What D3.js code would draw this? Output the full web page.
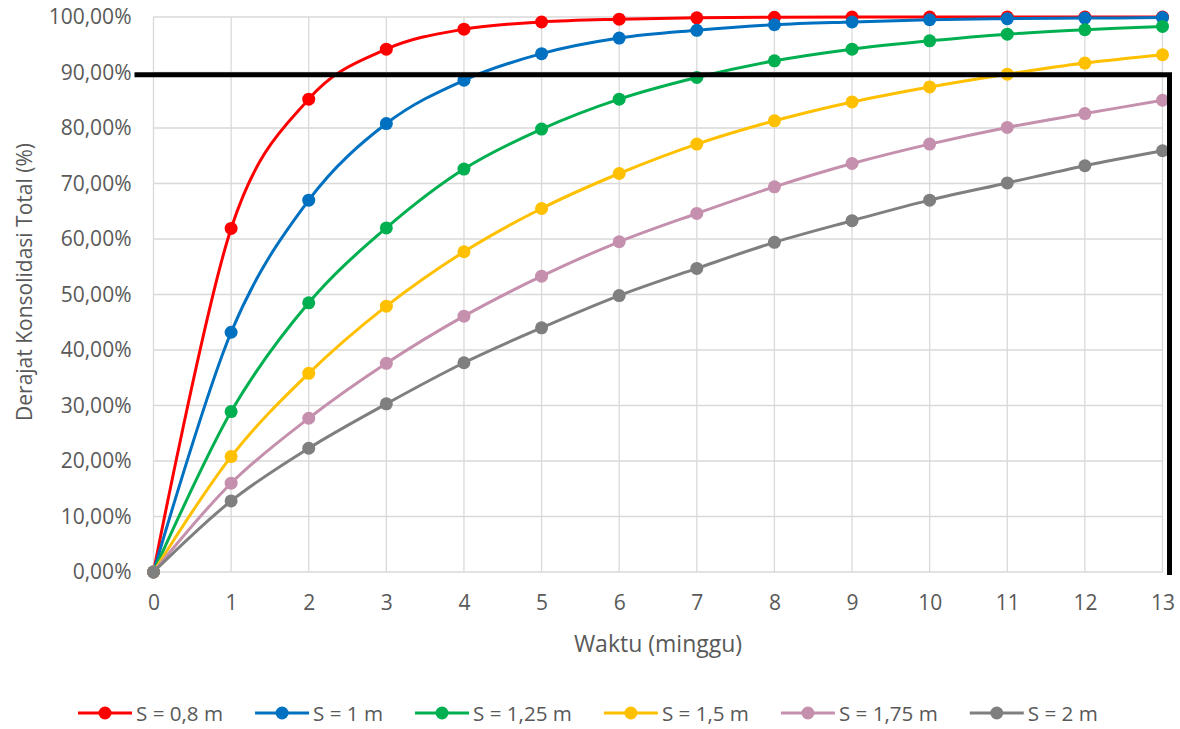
<!DOCTYPE html>
<html>
<head>
<meta charset="utf-8">
<script src="https://cdn.jsdelivr.net/npm/d3@7"></script>
<style>
  html, body { margin: 0; padding: 0; background: #fff; }
  svg { display: block; font-family: "Open Sans", sans-serif; }
</style>
</head>
<body>
<svg id="chart" width="1180" height="729"></svg>
<script>
// Waktu (minggu)
const weeks = [0, 1, 2, 3, 4, 5, 6, 7, 8, 9, 10, 11, 12, 13];

// Derajat konsolidasi total (%) per jarak drain S
const s080 = [0, 61.9, 85.2, 94.2, 97.8, 99.1, 99.6, 99.85, 99.95, 99.98, 99.99, 100, 100, 100];
const s100 = [0, 43.2, 67.0, 80.8, 88.6, 93.4, 96.2, 97.6, 98.6, 99.1, 99.5, 99.7, 99.8, 99.9];
const s125 = [0, 28.9, 48.5, 62.0, 72.6, 79.8, 85.2, 89.1, 92.1, 94.2, 95.7, 96.9, 97.7, 98.3];
const s150 = [0, 20.8, 35.8, 47.9, 57.7, 65.5, 71.8, 77.1, 81.3, 84.7, 87.4, 89.7, 91.7, 93.2];
const s175 = [0, 16.0, 27.7, 37.6, 46.1, 53.3, 59.5, 64.6, 69.4, 73.6, 77.1, 80.1, 82.6, 85.0];
const s200 = [0, 12.8, 22.3, 30.3, 37.7, 44.0, 49.8, 54.7, 59.4, 63.3, 67.0, 70.1, 73.2, 75.9];

const seriesNames = ["S = 0,8 m", "S = 1 m", "S = 1,25 m", "S = 1,5 m", "S = 1,75 m", "S = 2 m"];
const seriesValues = [s080, s100, s125, s150, s175, s200];
const seriesColors = ["#FF0000", "#0070C0", "#00B050", "#FFC000", "#C590AD", "#7F7F7F"];

const yTicks = [0, 10, 20, 30, 40, 50, 60, 70, 80, 90, 100];
const targetLevel = 89.6; // garis batas derajat konsolidasi

const svg = d3.select("#chart");
const plot = { left: 153.5, right: 1162.5, top: 17, bottom: 572 };

const x = d3.scaleLinear().domain([0, 13]).range([plot.left, plot.right]);
const y = d3.scaleLinear().domain([0, 100]).range([plot.bottom, plot.top]);

const fmtPct = d => d.toFixed(2).replace(".", ",") + "%";
const textColor = "#595959";
const gridColor = "#D9D9D9";

// grid lines
svg.append("g")
  .selectAll("line")
  .data(yTicks)
  .join("line")
  .attr("x1", plot.left).attr("x2", plot.right)
  .attr("y1", d => y(d)).attr("y2", d => y(d))
  .attr("stroke", gridColor).attr("stroke-width", 1.3);

svg.append("g")
  .selectAll("line")
  .data(weeks)
  .join("line")
  .attr("x1", d => x(d)).attr("x2", d => x(d))
  .attr("y1", plot.top).attr("y2", plot.bottom)
  .attr("stroke", gridColor).attr("stroke-width", 1.3);

// y axis labels
const yAxis = svg.append("g")
  .attr("transform", `translate(${plot.left},0)`)
  .call(d3.axisLeft(y).tickValues(yTicks).tickFormat(fmtPct).tickSize(0).tickPadding(22));
yAxis.select(".domain").remove();
yAxis.selectAll("text").attr("fill", textColor).attr("font-size", 21)
  .attr("font-family", "'Open Sans', sans-serif");

// x axis labels
const xAxis = svg.append("g")
  .attr("transform", `translate(0,${plot.bottom})`)
  .call(d3.axisBottom(x).tickValues(weeks).tickFormat(d3.format("d")).tickSize(0));
xAxis.select(".domain").remove();
xAxis.selectAll("text").attr("fill", textColor).attr("font-size", 21)
  .attr("font-family", "'Open Sans', sans-serif")
  .attr("y", 38).attr("dy", 0);

// axis titles
svg.append("text")
  .attr("transform", "translate(32,282) rotate(-90)")
  .attr("text-anchor", "middle")
  .attr("fill", textColor).attr("font-size", 21)
  .text("Derajat Konsolidasi Total (%)");

svg.append("text")
  .attr("x", 658)
  .attr("y", 652)
  .attr("text-anchor", "middle")
  .attr("fill", textColor).attr("font-size", 23)
  .text("Waktu (minggu)");

// series
const line = d3.line()
  .x((d, i) => x(weeks[i]))
  .y(d => y(d))
  .curve(d3.curveCatmullRom.alpha(0));

const series = svg.append("g")
  .selectAll("g")
  .data(seriesValues.map((v, i) => ({ values: v, color: seriesColors[i] })))
  .join("g");

series.each(function (s) {
  const g = d3.select(this);
  g.append("path")
    .attr("d", line(s.values))
    .attr("fill", "none")
    .attr("stroke", s.color)
    .attr("stroke-width", 3)
    .attr("stroke-linejoin", "round");
  g.selectAll("circle")
    .data(s.values)
    .join("circle")
    .attr("cx", (d, i) => x(weeks[i]))
    .attr("cy", d => y(d))
    .attr("r", 6.5)
    .attr("fill", s.color);
});

// batas derajat konsolidasi
const limitX = x(13) + 7;
svg.append("path")
  .attr("d", `M${plot.left - 19},${y(targetLevel)} H${limitX} V${plot.bottom + 3}`)
  .attr("fill", "none")
  .attr("stroke", "#000")
  .attr("stroke-width", 5);

// legend
const legend = svg.append("g").attr("transform", "translate(78,713)");
let cursor = 0;
seriesNames.forEach((name, i) => {
  const item = legend.append("g").attr("transform", `translate(${cursor},0)`);
  item.append("line")
    .attr("x1", 0).attr("x2", 54).attr("y1", 0).attr("y2", 0)
    .attr("stroke", seriesColors[i]).attr("stroke-width", 3);
  item.append("circle").attr("cx", 27).attr("cy", 0).attr("r", 6.5).attr("fill", seriesColors[i]);
  const t = item.append("text")
    .attr("x", 58).attr("y", 8)
    .attr("fill", textColor).attr("font-size", 20.6)
    .text(name);
  cursor += 58 + t.node().getComputedTextLength() + 32;
});
</script>
</body>
</html>
